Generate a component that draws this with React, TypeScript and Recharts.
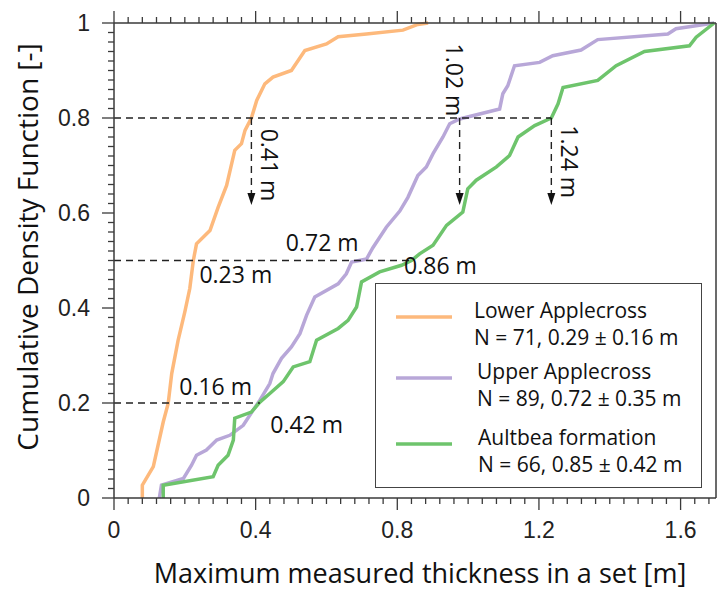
import { LineChart, Line, XAxis, YAxis, ReferenceLine, ReferenceDot, Label } from "recharts";

const lowerApplecross = [
  { x: 0.08, y: 0 }, { x: 0.08, y: 0.027 }, { x: 0.111, y: 0.066 }, { x: 0.139, y: 0.16 },
  { x: 0.153, y: 0.199 }, { x: 0.163, y: 0.262 }, { x: 0.181, y: 0.332 }, { x: 0.2, y: 0.392 },
  { x: 0.214, y: 0.441 }, { x: 0.224, y: 0.5 }, { x: 0.233, y: 0.535 }, { x: 0.271, y: 0.563 },
  { x: 0.294, y: 0.612 }, { x: 0.318, y: 0.658 }, { x: 0.341, y: 0.732 }, { x: 0.36, y: 0.746 },
  { x: 0.37, y: 0.774 }, { x: 0.388, y: 0.8 }, { x: 0.403, y: 0.837 }, { x: 0.426, y: 0.872 },
  { x: 0.449, y: 0.886 }, { x: 0.501, y: 0.9 }, { x: 0.539, y: 0.942 }, { x: 0.6, y: 0.956 },
  { x: 0.633, y: 0.971 }, { x: 0.713, y: 0.977 }, { x: 0.816, y: 0.985 }, { x: 0.858, y: 0.997 },
  { x: 0.887, y: 1 },
];

const upperApplecross = [
  { x: 0.128, y: 0 }, { x: 0.134, y: 0.027 }, { x: 0.196, y: 0.041 }, { x: 0.219, y: 0.069 },
  { x: 0.233, y: 0.09 }, { x: 0.261, y: 0.101 }, { x: 0.29, y: 0.122 }, { x: 0.327, y: 0.132 },
  { x: 0.365, y: 0.153 }, { x: 0.393, y: 0.185 }, { x: 0.412, y: 0.206 }, { x: 0.44, y: 0.241 },
  { x: 0.449, y: 0.262 }, { x: 0.473, y: 0.294 }, { x: 0.501, y: 0.318 }, { x: 0.525, y: 0.346 },
  { x: 0.544, y: 0.385 }, { x: 0.567, y: 0.423 }, { x: 0.633, y: 0.451 }, { x: 0.656, y: 0.472 },
  { x: 0.671, y: 0.497 }, { x: 0.713, y: 0.503 }, { x: 0.731, y: 0.527 }, { x: 0.769, y: 0.57 },
  { x: 0.807, y: 0.604 }, { x: 0.83, y: 0.633 }, { x: 0.858, y: 0.679 }, { x: 0.882, y: 0.697 },
  { x: 0.901, y: 0.725 }, { x: 0.929, y: 0.76 }, { x: 0.948, y: 0.788 }, { x: 0.976, y: 0.798 },
  { x: 1.089, y: 0.819 }, { x: 1.098, y: 0.851 }, { x: 1.112, y: 0.868 }, { x: 1.131, y: 0.91 },
  { x: 1.202, y: 0.917 }, { x: 1.239, y: 0.931 }, { x: 1.319, y: 0.943 }, { x: 1.366, y: 0.965 },
  { x: 1.564, y: 0.977 }, { x: 1.587, y: 0.988 }, { x: 1.695, y: 1 },
];

const aultbea = [
  { x: 0.139, y: 0 }, { x: 0.139, y: 0.027 }, { x: 0.28, y: 0.045 }, { x: 0.294, y: 0.069 },
  { x: 0.322, y: 0.09 }, { x: 0.337, y: 0.122 }, { x: 0.341, y: 0.168 }, { x: 0.388, y: 0.181 },
  { x: 0.412, y: 0.202 }, { x: 0.44, y: 0.22 }, { x: 0.478, y: 0.245 }, { x: 0.506, y: 0.276 },
  { x: 0.553, y: 0.287 }, { x: 0.572, y: 0.332 }, { x: 0.633, y: 0.357 }, { x: 0.661, y: 0.374 },
  { x: 0.685, y: 0.402 }, { x: 0.699, y: 0.455 }, { x: 0.75, y: 0.476 }, { x: 0.812, y: 0.49 },
  { x: 0.84, y: 0.5 }, { x: 0.863, y: 0.514 }, { x: 0.901, y: 0.532 }, { x: 0.939, y: 0.574 },
  { x: 0.985, y: 0.602 }, { x: 0.999, y: 0.651 }, { x: 1.023, y: 0.669 }, { x: 1.08, y: 0.697 },
  { x: 1.117, y: 0.721 }, { x: 1.141, y: 0.76 }, { x: 1.188, y: 0.784 }, { x: 1.235, y: 0.8 },
  { x: 1.254, y: 0.83 }, { x: 1.268, y: 0.864 }, { x: 1.366, y: 0.879 }, { x: 1.418, y: 0.91 },
  { x: 1.498, y: 0.94 }, { x: 1.625, y: 0.952 }, { x: 1.644, y: 0.97 }, { x: 1.695, y: 1 },
];

const xMajorTicks = [0, 0.4, 0.8, 1.2, 1.6];
const yMajorTicks = [0, 0.2, 0.4, 0.6, 0.8, 1];

// quantile read-outs: horizontal dashed line at level, ending where the last curve is met
const quantileLines = [
  { level: 0.8, xEnd: 1.235 },
  { level: 0.5, xEnd: 0.84 },
  { level: 0.2, xEnd: 0.412 },
];
const dropArrows = [0.388, 0.976, 1.235];
const arrowTip = 0.617;

const annotations = [
  { text: "0.41 m", x: 0.438, y: 0.701, vertical: true },
  { text: "1.02 m", x: 0.96, y: 0.88, vertical: true },
  { text: "1.24 m", x: 1.285, y: 0.708, vertical: true },
  { text: "0.72 m", x: 0.588, y: 0.536, vertical: false },
  { text: "0.23 m", x: 0.344, y: 0.469, vertical: false },
  { text: "0.86 m", x: 0.922, y: 0.489, vertical: false },
  { text: "0.16 m", x: 0.287, y: 0.234, vertical: false },
  { text: "0.42 m", x: 0.544, y: 0.154, vertical: false },
];

const series = [
  { name: "Lower Applecross", stats: "N = 71, 0.29 \u00b1 0.16 m", data: lowerApplecross, color: "#FDB97C" },
  { name: "Upper Applecross", stats: "N = 89, 0.72 \u00b1 0.35 m", data: upperApplecross, color: "#B8A7D8" },
  { name: "Aultbea formation", stats: "N = 66, 0.85 \u00b1 0.42 m", data: aultbea, color: "#6EC46C" },
];

const AXIS = "#3a3a3a";
const TICK_FONT = "'Liberation Sans', Arial, sans-serif";
const TEXT_FONT = "'Open Sans', 'Noto Sans', sans-serif";

const xMinor = Array.from({ length: 43 }, (_, i) => Math.round(i * 4) / 100);
const yMinor = Array.from({ length: 51 }, (_, i) => Math.round(i * 2) / 100);
const isMajor = (v: number, list: number[]) => list.some((m) => Math.abs(m - v) < 1e-6);

function BottomTick({ x, y, payload }: any) {
  const major = isMajor(payload.value, xMajorTicks);
  return (
    <g>
      <line x1={x} x2={x} y1={y} y2={y + (major ? 12 : 6)} stroke={AXIS} strokeWidth={1.3} />
      {major && (
        <text x={x} y={y + 40} textAnchor="middle" fontSize={23} fontFamily={TICK_FONT} fill="#222">
          {payload.value === 0 ? "0" : payload.value.toFixed(1)}
        </text>
      )}
    </g>
  );
}

function TopTick({ x, y, payload }: any) {
  const major = isMajor(payload.value, xMajorTicks);
  return <line x1={x} x2={x} y1={y} y2={y - (major ? 12 : 6)} stroke={AXIS} strokeWidth={1.3} />;
}

function LeftTick({ x, y, payload }: any) {
  const major = isMajor(payload.value, yMajorTicks);
  return (
    <g>
      <line x1={x} x2={x - (major ? 12 : 6)} y1={y} y2={y} stroke={AXIS} strokeWidth={1.3} />
      {major && (
        <text x={x - 24} y={y + 8} textAnchor="end" fontSize={23} fontFamily={TICK_FONT} fill="#222">
          {payload.value === 0 || payload.value === 1 ? String(payload.value) : payload.value.toFixed(1)}
        </text>
      )}
    </g>
  );
}

function RightTick({ x, y, payload }: any) {
  const major = isMajor(payload.value, yMajorTicks);
  return <line x1={x} x2={x + (major ? 12 : 6)} y1={y} y2={y} stroke={AXIS} strokeWidth={1.3} />;
}

function XTitle({ viewBox }: any) {
  return (
    <text x={420} y={viewBox.y + 85} textAnchor="middle" fontSize={27} fontFamily={TEXT_FONT} fill="#111">
      Maximum measured thickness in a set [m]
    </text>
  );
}

function YTitle() {
  const cx = 38;
  const cy = 247;
  return (
    <text x={cx} y={cy} transform={`rotate(-90, ${cx}, ${cy})`} textAnchor="middle" fontSize={28} fontFamily={TEXT_FONT} fill="#111">
      Cumulative Density Function [-]
    </text>
  );
}

function Legend() {
  return (
    <div style={{ position: "absolute", left: 375, top: 283, width: 327, height: 205, border: "1.5px solid #444", background: "#fff", boxSizing: "border-box" }}>
      <svg width={324} height={202}>
        {series.map((s, i) => {
          const base = [33, 94, 160][i];
          const tx = [98, 101, 102][i];
          return (
            <g key={s.name}>
              <line x1={20} x2={76} y1={base} y2={base} stroke={s.color} strokeWidth={3.5} />
              <text x={tx} y={base + 1} fontSize={21} fontFamily={TEXT_FONT} fill="#111">{s.name}</text>
              <text x={tx} y={base + 28} fontSize={21} fontFamily={TEXT_FONT} fill="#111">{s.stats}</text>
            </g>
          );
        })}
      </svg>
    </div>
  );
}

export default function App() {
  return (
    <div style={{ position: "absolute", left: 0, top: 0, width: 719, height: 592, background: "#fff" }}>
      <LineChart width={719} height={592} margin={{ top: 0, right: 0, bottom: 0, left: 0 }}>
        <XAxis xAxisId="bottom" dataKey="x" type="number" domain={[0, 1.7]} ticks={xMinor} interval={0}
          allowDataOverflow tickSize={0} tickMargin={0} tickLine={false} tick={<BottomTick />} height={94}
          axisLine={{ stroke: AXIS, strokeWidth: 1.5 }}>
          <Label content={<XTitle />} />
        </XAxis>
        <XAxis xAxisId="top" orientation="top" dataKey="x" type="number" domain={[0, 1.7]} ticks={xMinor} interval={0}
          allowDataOverflow tickSize={0} tickMargin={0} tickLine={false} tick={<TopTick />} height={23}
          axisLine={{ stroke: AXIS, strokeWidth: 1.5 }} />
        <YAxis yAxisId="left" type="number" domain={[0, 1]} ticks={yMinor} interval={0}
          tickSize={0} tickMargin={0} tickLine={false} tick={<LeftTick />} width={114}
          axisLine={{ stroke: AXIS, strokeWidth: 1.5 }}>
          <Label content={<YTitle />} />
        </YAxis>
        <YAxis yAxisId="right" orientation="right" type="number" domain={[0, 1]} ticks={yMinor} interval={0}
          tickSize={0} tickMargin={0} tickLine={false} tick={<RightTick />} width={3}
          axisLine={{ stroke: AXIS, strokeWidth: 1.5 }} />

        {series.map((s) => (
          <Line key={s.name} xAxisId="bottom" yAxisId="left" data={s.data} dataKey="y" type="linear"
            stroke={s.color} strokeWidth={3.5} dot={false} isAnimationActive={false} />
        ))}

        {quantileLines.map((q) => (
          <ReferenceLine key={q.level} xAxisId="bottom" yAxisId="left"
            segment={[{ x: 0, y: q.level }, { x: q.xEnd, y: q.level }]}
            stroke="#222" strokeWidth={1.4} strokeDasharray="7 5" />
        ))}
        {dropArrows.map((ax) => (
          <ReferenceLine key={ax} xAxisId="bottom" yAxisId="left"
            segment={[{ x: ax, y: 0.8 }, { x: ax, y: arrowTip + 0.02 }]}
            stroke="#222" strokeWidth={1.4} strokeDasharray="7 5" />
        ))}
        {dropArrows.map((ax) => (
          <ReferenceDot key={`tip-${ax}`} xAxisId="bottom" yAxisId="left" x={ax} y={arrowTip}
            shape={(p: any) => (
              <path d={`M${p.cx - 4},${p.cy - 12} L${p.cx + 4},${p.cy - 12} L${p.cx},${p.cy} Z`} fill="#111" />
            )} />
        ))}
        {annotations.map((a) => (
          <ReferenceDot key={a.text} xAxisId="bottom" yAxisId="left" x={a.x} y={a.y}
            shape={(p: any) => (
              <text x={p.cx} y={p.cy + 8} textAnchor="middle" fontSize={23} fontFamily={TEXT_FONT} fill="#111"
                transform={a.vertical ? `rotate(90, ${p.cx}, ${p.cy})` : undefined}>
                {a.text}
              </text>
            )} />
        ))}
      </LineChart>
      <Legend />
    </div>
  );
}
